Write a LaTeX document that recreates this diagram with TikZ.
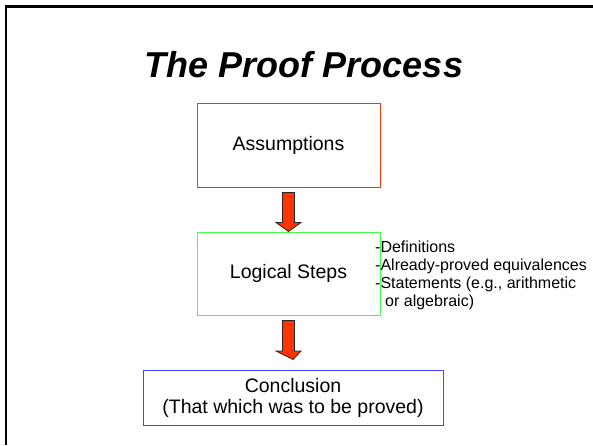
\documentclass[tikz,border=0pt]{standalone}
\usepackage{fontspec}
\setmainfont{Liberation Sans}
\usetikzlibrary{calc}
\definecolor{boxred}{HTML}{FF3300}
\definecolor{boxgreen}{HTML}{44FF44}
\definecolor{boxblue}{HTML}{4444FF}
\definecolor{arrowred}{HTML}{FF3300}
\tikzset{
  stepbox/.style={rectangle, draw, line width=1pt, inner sep=0pt, align=center,
    font=\fontsize{19.5}{21}\selectfont},
  blockarrow/.style={fill=arrowred, draw=black!85, line width=0.8pt, line join=miter},
  sidenote/.style={inner sep=0pt, align=left, anchor=north west,
    font=\fontsize{16}{18}\selectfont},
}
\begin{document}
\begin{tikzpicture}[x=1pt,y=-1pt]
\useasboundingbox (0,0) rectangle (593,445);
\draw[line width=2.2pt] (6,445) -- (6,6.5) -- (593,6.5);
\node[anchor=base, inner sep=0pt, font=\fontsize{36}{40}\selectfont\bfseries\itshape] (title) at (304,77) {The Proof Process};
\node[stepbox, draw=boxred, minimum width=183pt, minimum height=84pt] (assump) at (288.5,145) {Assumptions};
\node[stepbox, draw=boxgreen, minimum width=183pt, minimum height=83.5pt] (logic) at (288.5,273.75) {Logical Steps};
\node[stepbox, draw=boxblue, minimum width=300pt, minimum height=55pt] (concl) at (293,397.5) {Conclusion\\(That which was to be proved)};
\node[sidenote] (notes) at (375,240.5) {-Definitions\\-Already-proved equivalences\\-Statements (e.g., arithmetic\\\hspace*{10pt}or algebraic)};
% arrow 1
\coordinate (a1) at ($(assump.south)+(0,5)$);
\draw[blockarrow] (a1) ++(-6,0) -- ++(0,30) -- ++(-6.5,0) -- (logic.north) -- ($(a1)+(12.5,30)$) -- ++(-6.5,0) -- ++(0,-30) -- cycle;
% arrow 2
\coordinate (a2) at ($(logic.south)+(0,4.5)$);
\coordinate (t2) at ($(concl.north)+(0,-10)$);
\draw[blockarrow] (a2) ++(-6,0) -- ++(0,30.5) -- ++(-6.5,0) -- (t2) -- ($(a2)+(12.5,30.5)$) -- ++(-6.5,0) -- ++(0,-30.5) -- cycle;
\end{tikzpicture}
\end{document}
